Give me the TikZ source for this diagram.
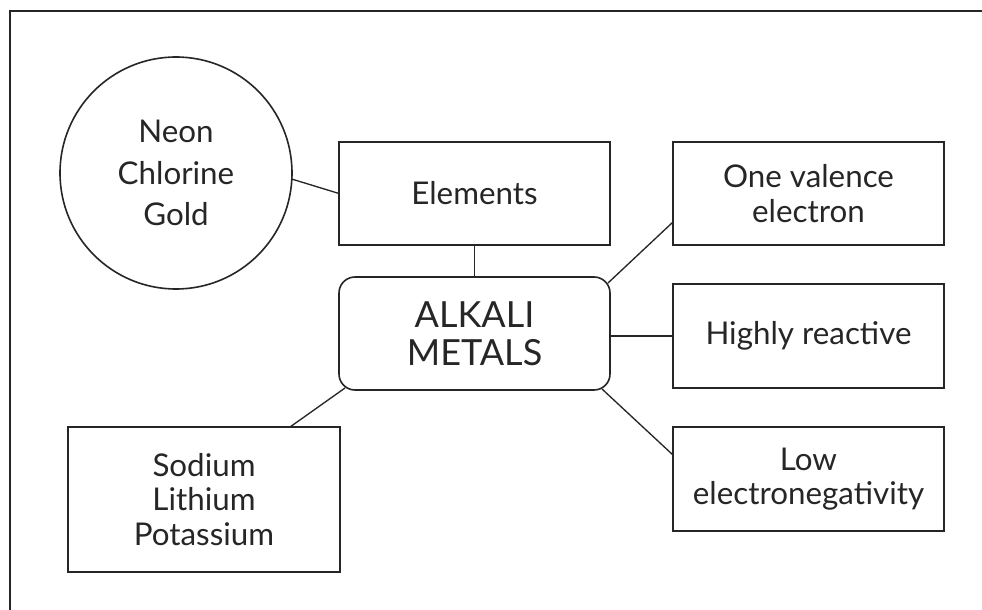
\documentclass[tikz,border=0pt]{standalone}
\usepackage{fontspec}
\setmainfont{Lato}
\usetikzlibrary{calc}
\definecolor{ink}{HTML}{262626}
\begin{document}
\begin{tikzpicture}[x=0.75pt,y=-0.75pt,
  every node/.style={inner sep=0pt,outer sep=0pt,text=ink,align=center,font=\fontsize{23.5}{26}\selectfont},
  box/.style={draw=ink,line width=1.2pt,rectangle,minimum width=203.25pt,minimum height=77.25pt},
  link/.style={draw=ink,line width=1pt}]
\useasboundingbox (0,0) rectangle (982,610);
\clip (0,0) rectangle (982,610);
\fill[white] (0,0) rectangle (982,610);
\draw[ink,line width=1.6pt] (10,11) rectangle (1000,630);
\node[draw=ink,line width=1.2pt,circle,minimum size=174pt,font=\fontsize{23.5}{31}\selectfont] (neon) at (176,173) {Neon\\Chlorine\\Gold};
\node[box] (elem) at (474.5,193.5) {Elements};
\node[box,minimum height=84.75pt,rounded corners=12pt,font=\fontsize{27}{28.5}\selectfont] (alk) at (474.5,333.5) {ALKALI\\METALS};
\node[box] (one) at (808.5,193.5) {One valence\\electron};
\node[box,minimum height=78pt] (high) at (808.5,336) {Highly reactive};
\node[box,minimum height=78pt] (low) at (808.5,479) {Low\\electronegativity};
\node[box,minimum width=204pt,minimum height=108.75pt] (sod) at (204,499.5) {Sodium\\Lithium\\Potassium};
\draw[link] (neon.-3.5) -- (elem.west);
\draw[link] (elem.south) -- (alk.north);
\draw[link] ($(alk.north east)+(-2,6)$) -- ($(one.south west)+(0,-23)$);
\draw[link] (alk.east |- high.west) -- (high.west);
\draw[link] ($(alk.south east)+(-8,-1)$) -- ($(low.north west)+(0,28)$);
\draw[link] ($(alk.south west)+(6,-2)$) -- ($(sod.north west)+(222,0)$);
\end{tikzpicture}
\end{document}
